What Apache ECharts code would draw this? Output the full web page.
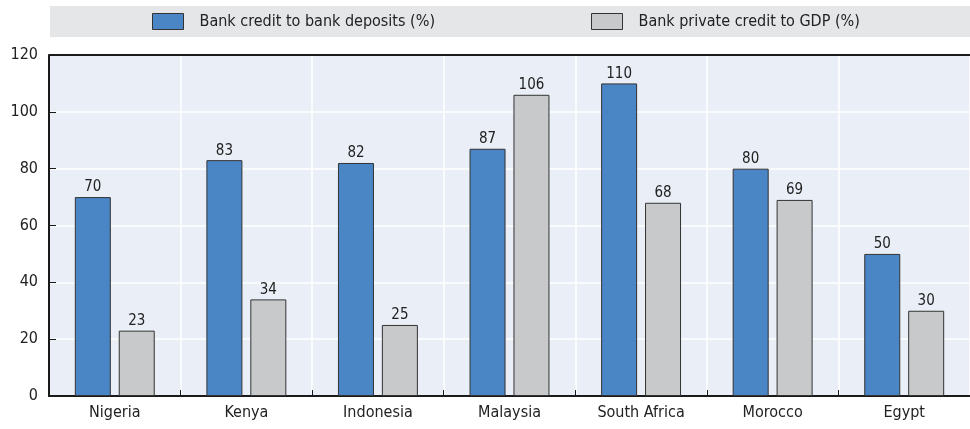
<!DOCTYPE html>
<html>
<head>
<meta charset="utf-8">
<script src="https://cdn.jsdelivr.net/npm/echarts@6/dist/echarts.min.js"></script>
<style>
  html, body { margin: 0; padding: 0; background: #ffffff; }
  #chart { width: 970px; height: 429px; }
</style>
</head>
<body>
<div id="chart"></div>
<script>
// Banking depth indicators by country
const countries = ['Nigeria', 'Kenya', 'Indonesia', 'Malaysia', 'South Africa', 'Morocco', 'Egypt'];
const creditToDeposits = [70, 83, 82, 87, 110, 80, 50];
const privateCreditToGdp = [23, 34, 25, 106, 68, 69, 30];
const seriesNames = ['Bank credit to bank deposits (%)', 'Bank private credit to GDP (%)'];
const yTicks = { min: 0, max: 120, interval: 20 };

const FONT = '"Liberation Sans Narrow", "DejaVu Sans Condensed", "Roboto Condensed", sans-serif';
const TEXT = '#222222';

const chart = echarts.init(document.getElementById('chart'), null, { renderer: 'canvas' });

const legendBase = {
  top: 13,
  padding: 0,
  icon: 'rect',
  itemWidth: 31,
  itemHeight: 16,
  itemStyle: { borderColor: '#333333', borderWidth: 1 },
  textStyle: { fontFamily: FONT, fontSize: 16, color: TEXT, padding: [0, 0, 0, 11] },
  selectedMode: false
};

chart.setOption({
  animation: false,
  backgroundColor: '#ffffff',
  textStyle: { fontFamily: FONT },
  graphic: [{
    type: 'rect',
    shape: { x: 50, y: 6, width: 920, height: 31 },
    style: { fill: '#e5e6e8' },
    z: -1
  }],
  legend: [
    Object.assign({}, legendBase, { left: 152, data: [seriesNames[0]] }),
    Object.assign({}, legendBase, { left: 591, data: [seriesNames[1]] })
  ],
  grid: { left: 49, right: 0, top: 55, bottom: 33, show: true, backgroundColor: '#e9eef7', borderWidth: 0 },
  xAxis: {
    type: 'category',
    data: countries,
    axisLine: { show: true, lineStyle: { color: '#1a1a1a', width: 2 } },
    axisTick: { show: true, inside: true, length: 6, lineStyle: { color: '#1a1a1a', width: 1 } },
    axisLabel: { fontFamily: FONT, fontSize: 16, color: TEXT, margin: 9 },
    splitLine: { show: true, lineStyle: { color: '#ffffff', width: 1.5 } }
  },
  yAxis: {
    type: 'value',
    min: yTicks.min,
    max: yTicks.max,
    interval: yTicks.interval,
    axisLine: { show: true, lineStyle: { color: '#1a1a1a', width: 2 } },
    axisTick: { show: true, inside: true, length: 7, lineStyle: { color: '#1a1a1a', width: 1 } },
    axisLabel: { fontFamily: FONT, fontSize: 16, color: TEXT, margin: 11 },
    splitLine: { show: true, lineStyle: { color: '#ffffff', width: 1.5 } }
  },
  series: [
    {
      name: seriesNames[0],
      type: 'bar',
      data: creditToDeposits,
      barWidth: 36,
      barGap: '22%',
      itemStyle: { color: '#4a86c6', borderColor: '#333333', borderWidth: 1 },
      label: { show: true, position: 'top', distance: 2, fontFamily: FONT, fontSize: 15, color: TEXT }
    },
    {
      name: seriesNames[1],
      type: 'bar',
      data: privateCreditToGdp,
      barWidth: 36,
      itemStyle: { color: '#c8c9cb', borderColor: '#333333', borderWidth: 1 },
      label: { show: true, position: 'top', distance: 2, fontFamily: FONT, fontSize: 15, color: TEXT },
      // frame line along the top of the plot
      markLine: {
        silent: true,
        symbol: 'none',
        label: { show: false },
        lineStyle: { color: '#1a1a1a', width: 2, type: 'solid' },
        data: [{ yAxis: yTicks.max }]
      }
    }
  ]
});
</script>
</body>
</html>
